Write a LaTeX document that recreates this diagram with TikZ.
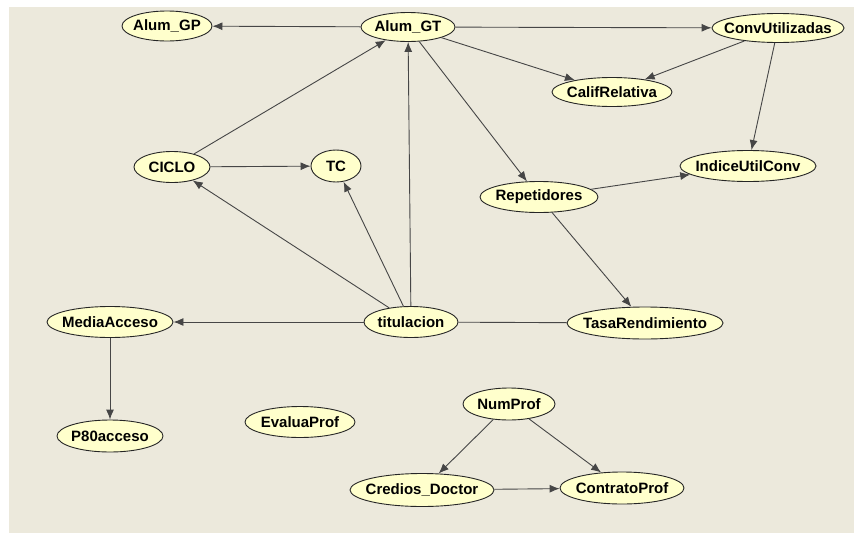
\documentclass[tikz,border=0pt]{standalone}
\usepackage{fontspec}
\setmainfont{Liberation Sans}
\usetikzlibrary{shapes.geometric,arrows.meta}
\definecolor{bgc}{RGB}{236,233,220}
\definecolor{ndfill}{RGB}{255,255,204}
\definecolor{edgec}{RGB}{70,70,70}
\newcommand\nlab[1]{\makebox[0pt]{#1}}
\tikzset{
  nd/.style={ellipse, draw=black!85, line width=0.9pt, fill=ndfill, inner sep=0pt,
    font=\bfseries\fontsize{15}{15}\selectfont},
  arr/.style={draw=edgec, line width=0.9pt, -{Latex[length=10pt,width=8pt]}},
  lin/.style={draw=edgec, line width=0.9pt}
}
\begin{document}
\begin{tikzpicture}[x=1pt,y=-1pt]
\useasboundingbox (0,0) rectangle (854,533);
\fill[white] (0,0) rectangle (854,533);
\fill[bgc] (9,7) rectangle (854,533);
\node[nd, minimum width=90, minimum height=30] (gp) at (167,26) {\nlab{Alum\_GP}};
\node[nd, minimum width=94, minimum height=29] (gt) at (408,27) {\nlab{Alum\_GT}};
\node[nd, minimum width=132, minimum height=29] (cu) at (778,28) {\nlab{ConvUtilizadas}};
\node[nd, minimum width=120, minimum height=29] (cr) at (612,92) {\nlab{CalifRelativa}};
\node[nd, minimum width=136, minimum height=31] (iu) at (748,166) {\nlab{IndiceUtilConv}};
\node[nd, minimum width=118, minimum height=31] (rp) at (539,197) {\nlab{Repetidores}};
\node[nd, minimum width=156, minimum height=32] (tr) at (645,323) {\nlab{TasaRendimiento}};
\node[nd, minimum width=94, minimum height=31] (ti) at (411,322) {\nlab{titulacion}};
\node[nd, minimum width=126, minimum height=31] (ma) at (110,322) {\nlab{MediaAcceso}};
\node[nd, minimum width=106, minimum height=32] (p8) at (110,436) {\nlab{P80acceso}};
\node[nd, minimum width=110, minimum height=31] (ev) at (300,422) {\nlab{EvaluaProf}};
\node[nd, minimum width=92, minimum height=32] (np) at (509,404) {\nlab{NumProf}};
\node[nd, minimum width=144, minimum height=33] (cd) at (422,490) {\nlab{Credios\_Doctor}};
\node[nd, minimum width=124, minimum height=32] (cp) at (622,488) {\nlab{ContratoProf}};
\node[nd, minimum width=76, minimum height=31] (ci) at (172,167) {\nlab{CICLO}};
\node[nd, minimum width=50, minimum height=32] (tc) at (336,166) {\nlab{TC}};
\draw[arr] (gt) -- (gp);
\draw[arr] (gt) -- (cu);
\draw[arr] (gt) -- (cr);
\draw[arr] (cu) -- (cr);
\draw[arr] (cu) -- (iu);
\draw[arr] (gt) -- (rp);
\draw[arr] (rp) -- (iu);
\draw[arr] (rp) -- (tr);
\draw[arr] (ci) -- (gt);
\draw[arr] (ci) -- (tc);
\draw[arr] (ti) -- (gt);
\draw[arr] (ti) -- (ci);
\draw[arr] (ti) -- (tc);
\draw[arr] (ti) -- (ma);
\draw[lin] (ti) -- (tr);
\draw[arr] (ma) -- (p8);
\draw[arr] (np) -- (cd);
\draw[arr] (np) -- (cp);
\draw[arr] (cd) -- (cp);
\end{tikzpicture}
\end{document}
